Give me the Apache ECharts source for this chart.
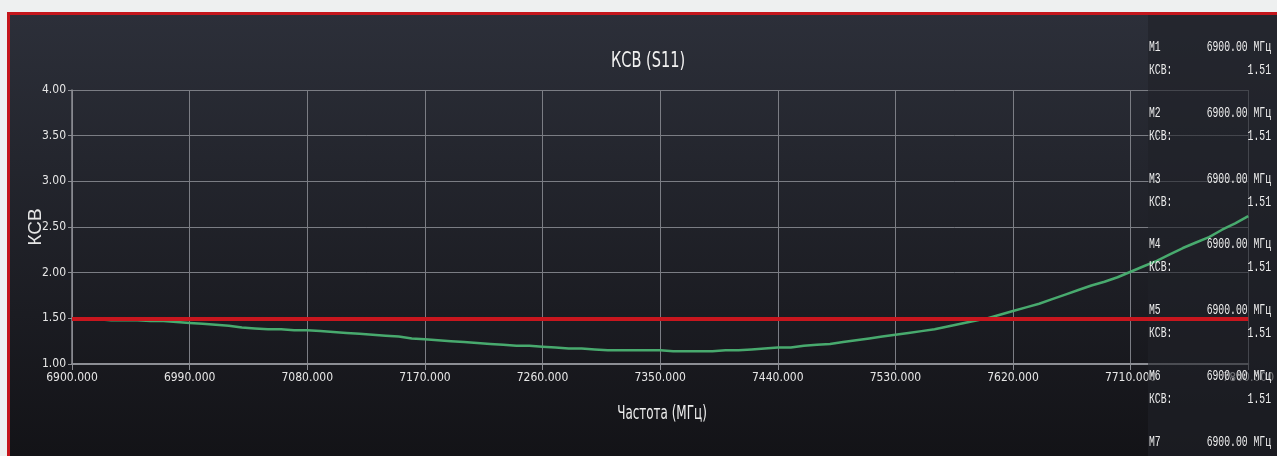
<!DOCTYPE html>
<html><head><meta charset="utf-8">
<script src="https://cdn.jsdelivr.net/npm/echarts@6/dist/echarts.min.js"></script>
<style>
html,body{margin:0;padding:0;width:1277px;height:456px;overflow:hidden;background:#eef0f0;}
#bg{position:absolute;left:7px;top:12px;width:1267px;height:441px;border-left:3px solid #c4161c;border-top:3px solid #c4161c;background:linear-gradient(#2c2f39,#131317);}
#chart{position:absolute;left:0;top:0;width:1277px;height:456px;}
</style></head><body><div id="bg"></div><div id="chart"></div>
<script>
// ---- data ----
const freqs = [
  6900,6910,6920,6930,6940,6950,6960,6970,6980,6990,
  7000,7010,7020,7030,7040,7050,7060,7070,7080,7090,
  7100,7110,7120,7130,7140,7150,7160,7170,7180,7190,
  7200,7210,7220,7230,7240,7250,7260,7270,7280,7290,
  7300,7310,7320,7330,7340,7350,7360,7370,7380,7390,
  7400,7410,7420,7430,7440,7450,7460,7470,7480,7490,
  7500,7510,7520,7530,7540,7550,7560,7570,7580,7590,
  7600,7610,7620,7630,7640,7650,7660,7670,7680,7690,
  7700,7710,7720,7730,7740,7750,7760,7770,7780,7790,
  7800
];
const vswr = [
  1.50,1.49,1.49,1.48,1.48,1.48,1.47,1.47,1.46,1.45,
  1.44,1.43,1.42,1.40,1.39,1.38,1.38,1.37,1.37,1.36,
  1.35,1.34,1.33,1.32,1.31,1.30,1.28,1.27,1.26,1.25,
  1.24,1.23,1.22,1.21,1.20,1.20,1.19,1.18,1.17,1.17,
  1.16,1.15,1.15,1.15,1.15,1.15,1.14,1.14,1.14,1.14,
  1.15,1.15,1.16,1.17,1.18,1.18,1.20,1.21,1.22,1.24,
  1.26,1.28,1.30,1.32,1.34,1.36,1.38,1.41,1.44,1.47,
  1.50,1.54,1.58,1.62,1.66,1.71,1.76,1.81,1.86,1.90,
  1.95,2.01,2.07,2.13,2.20,2.27,2.33,2.39,2.47,2.54,
  2.62
];
const limitLine = 1.5;
const xMin = 6900, xMax = 7800, xStep = 90;
const yMin = 1.0, yMax = 4.0, yStep = 0.5;
const markerNames = ['M1','M2','M3','M4','M5','M6','M7'];
const markerFreqs = ['6900.00','6900.00','6900.00','6900.00','6900.00','6900.00','6900.00'];
const markerVswr = ['1.51','1.51','1.51','1.51','1.51','1.51','1.51'];
const titleText = 'КСВ (S11)';
const xName = 'Частота (МГц)';
const yName = 'КСВ';

// ---- chart ----
const NARROW = '"Liberation Sans Narrow","DejaVu Sans Condensed","Roboto Condensed",sans-serif';
const MONO = '"Liberation Mono","DejaVu Sans Mono",monospace';
const chart = echarts.init(document.getElementById('chart'), null, {renderer:'canvas'});

const graphics = [
  {type:'rect', z:1, shape:{x:1148, y:15, width:129, height:441}, style:{fill:'rgba(32,34,40,0.6)'}},
  {type:'text', z:10, x:648, y:62, scaleX:0.77, style:{text:titleText, fill:'#f2f2f2', fontSize:21, fontFamily:NARROW, align:'center', verticalAlign:'middle'}},
  {type:'text', z:10, x:662, y:414, scaleX:0.7, style:{text:xName, fill:'#eeeeee', fontSize:19, fontFamily:NARROW, align:'center', verticalAlign:'middle'}}
];
markerNames.forEach((m, i) => {
  const y = 47 + 65.8 * i;
  const base = {fill:'#ededed', fontSize:15, fontFamily:MONO, verticalAlign:'middle'};
  graphics.push({type:'text', z:10, x:1149, y:y, scaleX:0.65, style:Object.assign({text:m, align:'left'}, base)});
  graphics.push({type:'text', z:10, x:1271, y:y, scaleX:0.65, style:Object.assign({text:markerFreqs[i] + ' МГц', align:'right'}, base)});
  graphics.push({type:'text', z:10, x:1149, y:y + 23, scaleX:0.65, style:Object.assign({text:'КСВ:', align:'left'}, base)});
  graphics.push({type:'text', z:10, x:1271, y:y + 23, scaleX:0.65, style:Object.assign({text:markerVswr[i], align:'right'}, base)});
});

const axisColor = '#8c8e94';
const gridColor = '#7b7d84';
chart.setOption({
  animation:false,
  backgroundColor:'transparent',
  grid:{left:72, right:25, top:90, bottom:92, containLabel:false},
  xAxis:{
    type:'value', min:0, max:xMax - xMin, interval:xStep,
    axisLine:{show:true, onZero:false, lineStyle:{color:axisColor, width:2}},
    axisTick:{show:true, length:6, lineStyle:{color:axisColor}},
    axisLabel:{color:'#e6e6e6', fontSize:12, fontFamily:NARROW, margin:8,
      showMinLabel:true, showMaxLabel:true, formatter:v => (v + xMin).toFixed(3)},
    splitLine:{show:true, lineStyle:{color:gridColor, width:1}}
  },
  yAxis:{
    type:'value', min:yMin, max:yMax, interval:yStep,
    axisLine:{show:true, lineStyle:{color:axisColor, width:1.5}},
    axisTick:{show:true, length:4, lineStyle:{color:axisColor}},
    axisLabel:{color:'#e6e6e6', fontSize:12, fontFamily:NARROW, margin:6, formatter:v => v.toFixed(2)},
    splitLine:{show:true, lineStyle:{color:gridColor, width:1}},
    name:yName, nameLocation:'middle', nameGap:27, nameRotate:90, nameMoveOverlap:false,
    nameTextStyle:{color:'#e6e6e6', fontSize:19, fontFamily:'"Liberation Sans",sans-serif'}
  },
  series:[{
    type:'line', symbol:'none', showSymbol:false,
    data:freqs.map((f, i) => [f - xMin, vswr[i]]),
    lineStyle:{color:'#48aa6e', width:2.5},
    itemStyle:{color:'#48aa6e'},
    markLine:{silent:true, symbol:['none','none'], label:{show:false},
      lineStyle:{color:'#c8161e', width:4, type:'solid'},
      data:[{yAxis:limitLine}]}
  }],
  graphic:graphics
});
</script></body></html>
